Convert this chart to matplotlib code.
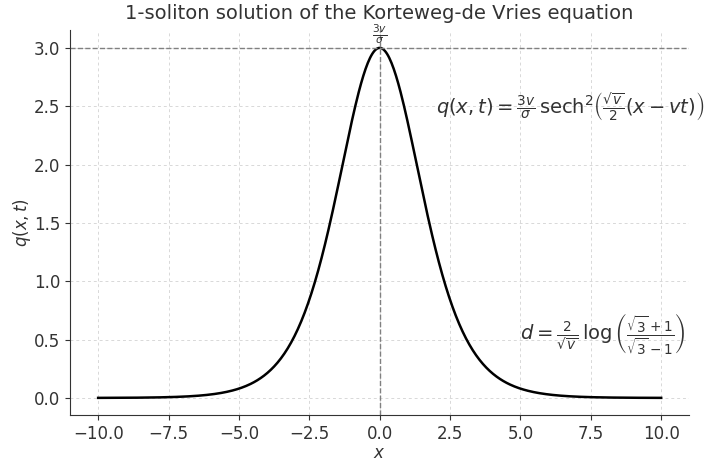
import numpy as np
import matplotlib.pyplot as plt

# soliton parameters (peak 3v/sigma = 3)
v = 1.0
sigma = 1.0
t0 = 0.0
x_range = [-10, 10]
n_pts = 500

x = np.linspace(x_range[0], x_range[1], n_pts)
# curve is the formula printed on the chart itself
q = (3 * v / sigma) / np.cosh(np.sqrt(v) / 2 * (x - v * t0)) ** 2
peak = 3 * v / sigma

fig = plt.figure(figsize=(7.07, 4.61), dpi=100)
ax = fig.add_axes([0.099, 0.099, 0.876, 0.835])

ax.plot(x, q, color='black', lw=1.8)
ax.axhline(peak, color='gray', ls='--', lw=1)
ax.axvline(0, color='gray', ls='--', lw=1)
ax.text(0, peak + 0.02, r'$\frac{3v}{\sigma}$', ha='center', va='bottom', fontsize=11, color='#333333')
ax.text(2, 2.5, r'$q(x,t) = \frac{3v}{\sigma}\,\mathrm{sech}^2\left(\frac{\sqrt{v}}{2}(x - vt)\right)$',
        fontsize=14, color='#333333', va='center')
ax.text(5, 0.55, r'$d = \frac{2}{\sqrt{v}}\,\log\left(\frac{\sqrt{3}+1}{\sqrt{3}-1}\right)$',
        fontsize=14, color='#333333', va='center')

ax.set_title('1-soliton solution of the Korteweg-de Vries equation', fontsize=14, color='#333333', pad=8)
ax.set_xlabel(r'$x$', fontsize=12, color='#333333', labelpad=1)
ax.set_ylabel(r'$q(x,t)$', fontsize=12, color='#333333', labelpad=1)
ax.set_xticks(np.arange(-10, 10.1, 2.5))
ax.set_yticks(np.arange(0, 3.01, 0.5))
ax.tick_params(labelsize=12, colors='#333333')
ax.grid(True, ls=(0, (3, 3)), color='#d8d8d8', lw=0.7)
ax.spines['top'].set_visible(False)
ax.spines['right'].set_visible(False)
for s in ['left', 'bottom']:
    ax.spines[s].set_color('#333333')

fig.savefig('out.png', dpi=100)
